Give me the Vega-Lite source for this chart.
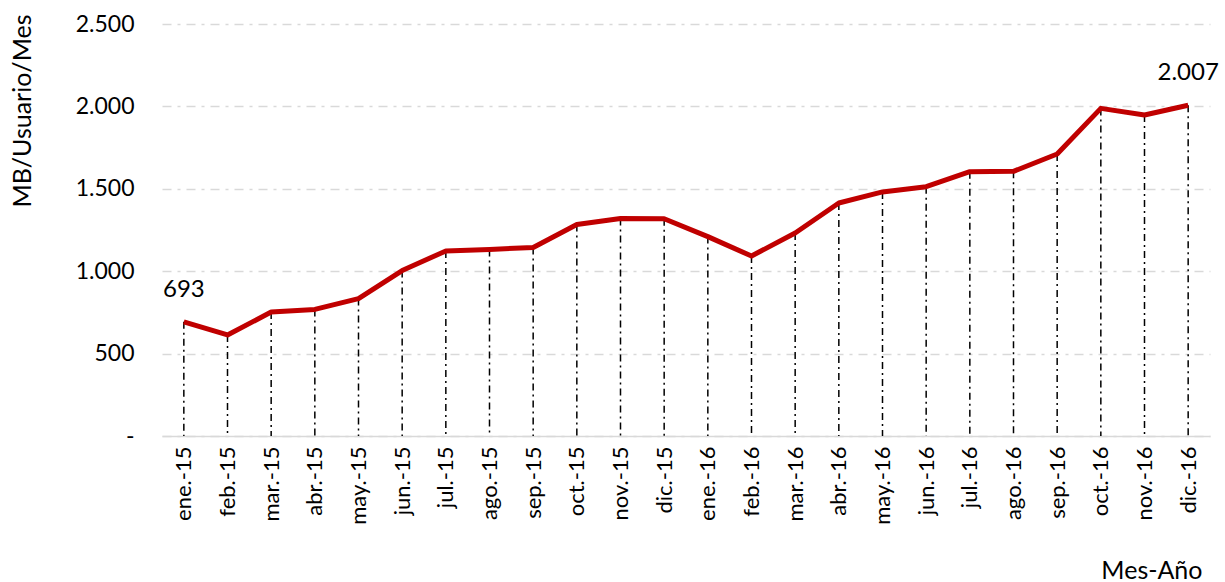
{
  "$schema": "https://vega.github.io/schema/vega-lite/v6.json",
  "width": 1048,
  "height": 412,
  "autosize": {"type": "none"},
  "padding": {"left": 162, "top": 24, "right": 15, "bottom": 146},
  "background": "white",
  "config": {
    "locale": {"number": {"decimal": ",", "thousands": ".", "grouping": [3], "currency": ["$", ""]}},
    "font": "Lato",
    "view": {"stroke": null}
  },
  "data": {
    "values": [
      {"mes": "ene.-15", "valor": 693},
      {"mes": "feb.-15", "valor": 613},
      {"mes": "mar.-15", "valor": 752},
      {"mes": "abr.-15", "valor": 768},
      {"mes": "may.-15", "valor": 834},
      {"mes": "jun.-15", "valor": 1004},
      {"mes": "jul.-15", "valor": 1123},
      {"mes": "ago.-15", "valor": 1132},
      {"mes": "sep.-15", "valor": 1144},
      {"mes": "oct.-15", "valor": 1283},
      {"mes": "nov.-15", "valor": 1320},
      {"mes": "dic.-15", "valor": 1318},
      {"mes": "ene.-16", "valor": 1210},
      {"mes": "feb.-16", "valor": 1092},
      {"mes": "mar.-16", "valor": 1232},
      {"mes": "abr.-16", "valor": 1414},
      {"mes": "may.-16", "valor": 1481},
      {"mes": "jun.-16", "valor": 1513},
      {"mes": "jul.-16", "valor": 1604},
      {"mes": "ago.-16", "valor": 1606},
      {"mes": "sep.-16", "valor": 1711},
      {"mes": "oct.-16", "valor": 1988},
      {"mes": "nov.-16", "valor": 1948},
      {"mes": "dic.-16", "valor": 2007}
    ]
  },
  "encoding": {
    "x": {
      "field": "mes",
      "type": "nominal",
      "sort": null,
      "scale": {"type": "point", "padding": 0.5},
      "axis": {
        "title": "Mes-Año",
        "titleFont": "Lato",
        "titleFontSize": 25,
        "titleFontWeight": "normal",
        "titleColor": "#000000",
        "titleAnchor": "end",
        "titleAlign": "right",
        "titleBaseline": "middle",
        "titleX": 1040,
        "titleY": 134,
        "labelAngle": -90,
        "labelFontSize": 22,
        "labelColor": "#000000",
        "labelPadding": 10,
        "ticks": false,
        "domain": true,
        "domainColor": "#d9d9d9",
        "domainWidth": 1.5,
        "grid": false
      }
    },
    "y": {
      "type": "quantitative",
      "scale": {"domain": [0, 2500], "nice": false, "zero": true}
    }
  },
  "layer": [
    {
      "mark": {"type": "rule", "color": "#000000", "strokeWidth": 1.5, "strokeDash": [7, 4, 2, 4]},
      "encoding": {
        "y": {
          "field": "valor",
          "type": "quantitative",
          "axis": {
            "title": "MB/Usuario/Mes",
            "titleFont": "Lato",
            "titleFontSize": 25,
            "titleFontWeight": "normal",
            "titleColor": "#000000",
            "titleAngle": -90,
            "titleAlign": "right",
            "titleBaseline": "middle",
            "titleX": -140,
            "titleY": -10,
            "values": [0, 500, 1000, 1500, 2000, 2500],
            "labelExpr": "datum.value == 0 ? '-' : datum.label",
            "labelFontSize": 23,
            "labelColor": "#000000",
            "labelPadding": 28,
            "ticks": false,
            "domain": false,
            "grid": true,
            "gridColor": "#d9d9d9",
            "gridWidth": 1.5,
            "gridDash": [9, 6, 3, 6]
          }
        },
        "y2": {"datum": 0}
      }
    },
    {
      "mark": {"type": "line", "color": "#c00000", "strokeWidth": 5, "strokeJoin": "round"},
      "encoding": {"y": {"field": "valor", "type": "quantitative"}}
    },
    {
      "transform": [{"filter": "datum.mes == 'ene.-15' || datum.mes == 'dic.-16'"}],
      "mark": {"type": "text", "dy": -32, "fontSize": 24, "color": "#000000", "font": "Lato"},
      "encoding": {
        "y": {"field": "valor", "type": "quantitative"},
        "text": {"field": "valor", "type": "quantitative", "format": ","}
      }
    }
  ]
}
